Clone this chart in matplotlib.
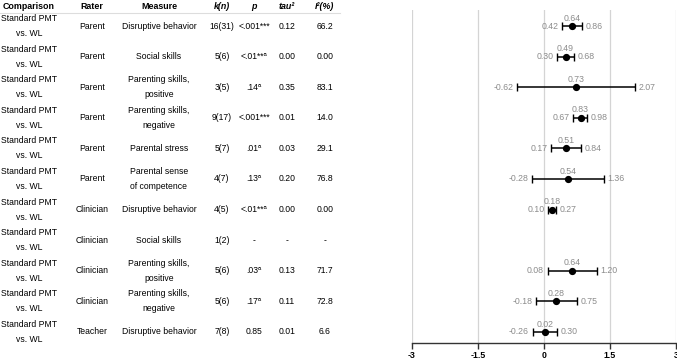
import numpy as np
import matplotlib
matplotlib.use("Agg")
import matplotlib.pyplot as plt
import matplotlib.transforms as mtransforms

plt.rcParams["font.family"] = ["Liberation Sans", "DejaVu Sans"]

comparison = ["Standard PMT\nvs. WL"] * 11
rater = ["Parent"] * 6 + ["Clinician"] * 4 + ["Teacher"]
measure = [
    "Disruptive behavior", "Social skills", "Parenting skills,\npositive",
    "Parenting skills,\nnegative", "Parental stress", "Parental sense\nof competence",
    "Disruptive behavior", "Social skills", "Parenting skills,\npositive",
    "Parenting skills,\nnegative", "Disruptive behavior",
]
k_n = ["16(31)", "5(6)", "3(5)", "9(17)", "5(7)", "4(7)", "4(5)", "1(2)", "5(6)", "5(6)", "7(8)"]
p_vals = ["<.001***", "<.01**ᵃ", ".14ᵃ", "<.001***", ".01ᵃ", ".13ᵃ", "<.01**ᵃ", "-", ".03ᵃ", ".17ᵃ", "0.85"]
tau2 = ["0.12", "0.00", "0.35", "0.01", "0.03", "0.20", "0.00", "-", "0.13", "0.11", "0.01"]
i2 = ["66.2", "0.00", "83.1", "14.0", "29.1", "76.8", "0.00", "-", "71.7", "72.8", "6.6"]

est = [0.64, 0.49, 0.73, 0.83, 0.51, 0.54, 0.18, np.nan, 0.64, 0.28, 0.02]
lower = [0.42, 0.30, -0.62, 0.67, 0.17, -0.28, 0.10, np.nan, 0.08, -0.18, -0.26]
upper = [0.86, 0.68, 2.07, 0.98, 0.84, 1.36, 0.27, np.nan, 1.20, 0.75, 0.30]

headers = ["Comparison", "Rater", "Measure", "k(n)", "p", "tau²", "I²(%)"]
header_italic = [False, False, False, True, True, True, True]
col_x = [29, 92, 159, 222, 254, 287, 325]  # pixel centres

W, H = 677, 359
fig = plt.figure(figsize=(W / 100, H / 100), dpi=100)
fig.patch.set_facecolor("white")

ax_left, ax_right = 412, 676
ax_top, ax_bottom = 10, 343
ax = fig.add_axes([ax_left / W, (H - ax_bottom) / H, (ax_right - ax_left) / W, (ax_bottom - ax_top) / H])

rows = np.arange(1, len(est) + 1)
ax.set_xlim(-3, 3)
ax.set_ylim(11.36, 0.477)

for gx in [-3, -1.5, 0, 1.5, 3]:
    ax.axvline(gx, color="#d4d4d4", lw=0.9, zorder=0)

ax.errorbar(est, rows, xerr=[np.array(est) - np.array(lower), np.array(upper) - np.array(est)],
            fmt="o", color="black", ms=4.2, lw=1.1, capsize=2.8, capthick=1.0, zorder=3)

grey = "#8c8c8c"
for r, e, lo, hi in zip(rows, est, lower, upper):
    if np.isnan(e):
        continue
    ax.annotate(f"{e:.2f}", (e, r), xytext=(0, 2.5), textcoords="offset points",
                ha="center", va="bottom", fontsize=6.3, color=grey)
    ax.annotate(f"{lo:.2f}", (lo, r), xytext=(-2.5, 0), textcoords="offset points",
                ha="right", va="center", fontsize=6.3, color=grey)
    ax.annotate(f"{hi:.2f}", (hi, r), xytext=(2.5, 0), textcoords="offset points",
                ha="left", va="center", fontsize=6.3, color=grey)

for side in ["top", "right", "left"]:
    ax.spines[side].set_visible(False)
ax.spines["bottom"].set_color("#333333")
ax.spines["bottom"].set_linewidth(1.0)
ax.set_yticks([])
ax.set_xticks([-3, -1.5, 0, 1.5, 3])
ax.set_xticklabels(["-3", "-1.5", "0", "1.5", "3"], fontsize=6.3, fontweight="bold")
ax.tick_params(axis="x", direction="out", length=4.5, width=1.0, color="#333333", pad=1)

# table on the left, rows share the forest plot's y scale
trans = mtransforms.blended_transform_factory(fig.transFigure, ax.transData)
for h, italic, cx in zip(headers, header_italic, col_x):
    fig.text(cx / W, 0.35, h, transform=trans, ha="center", va="center", fontsize=6.4,
             fontweight="bold", style="italic" if italic else "normal")
ax.plot([0, 340 / W], [0.59, 0.59], transform=trans, color="#dddddd", lw=0.8, clip_on=False)

for r in rows:
    i = r - 1
    cells = [comparison[i], rater[i], measure[i], k_n[i], p_vals[i], tau2[i], i2[i]]
    for txt, cx in zip(cells, col_x):
        fig.text(cx / W, r, txt, transform=trans, ha="center", va="center", fontsize=6.2,
                 linespacing=1.85, multialignment="center")

fig.savefig("out.png", dpi=100)
